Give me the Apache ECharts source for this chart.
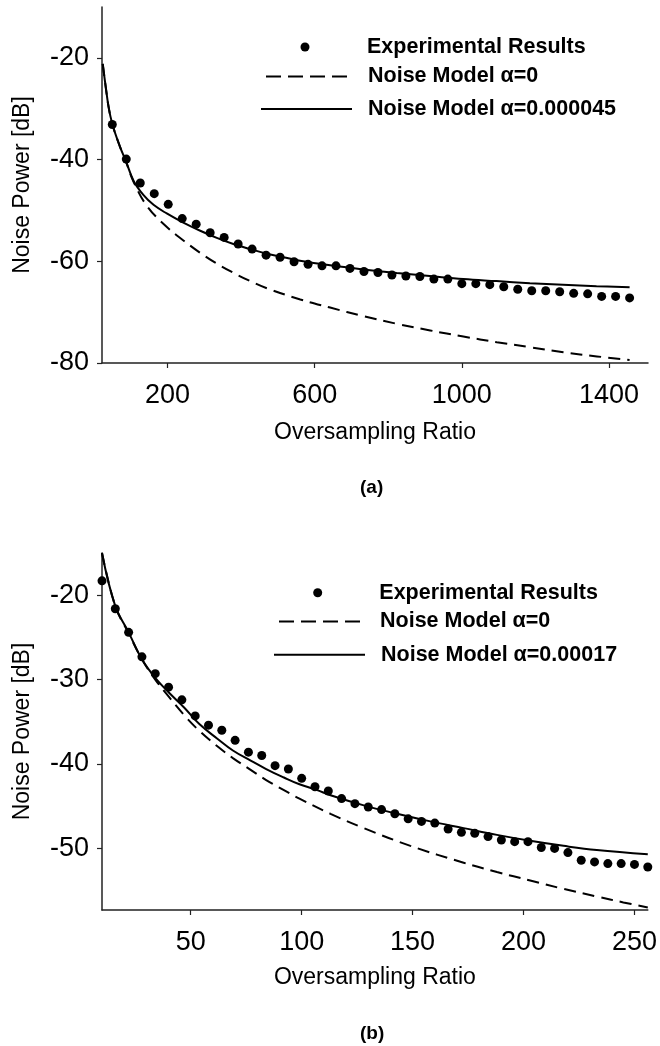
<!DOCTYPE html>
<html><head><meta charset="utf-8">
<script src="https://cdn.jsdelivr.net/npm/echarts@6/dist/echarts.min.js"></script>
<style>html,body{margin:0;padding:0;background:#fff}#c{width:660px;height:1046px}</style>
</head><body><div id="c"></div>
<script>
const FONT = '"Liberation Sans", Arial, Helvetica, sans-serif';

// ---------- Panel (a) ----------
const aTicksX = [200, 600, 1000, 1400];
const aTicksY = [-80, -60, -40, -20];
const aExpX = [50, 88, 126, 164, 202, 240, 278, 316, 354, 392, 430, 468, 506, 544, 582, 620, 658, 696, 734, 772, 810, 848, 886, 924, 962, 1000, 1038, 1076, 1114, 1152, 1190, 1228, 1266, 1304, 1342, 1380, 1418, 1456];
const aExpY = [-33.1, -39.9, -44.6, -46.7, -48.8, -51.6, -52.7, -54.4, -55.3, -56.6, -57.6, -58.8, -59.2, -60.1, -60.6, -60.9, -60.9, -61.4, -62.0, -62.2, -62.7, -62.9, -63.0, -63.5, -63.5, -64.4, -64.4, -64.6, -65.0, -65.5, -65.8, -65.8, -66.0, -66.3, -66.4, -66.9, -66.9, -67.2];
const aM0X = [24, 31, 40, 50, 70, 88, 108, 145, 199, 245, 290, 335, 380, 425, 470, 561, 642, 733, 824, 914, 1004, 1095, 1186, 1276, 1367, 1456];
const aM0Y = [-21.2, -25.1, -29.7, -33.0, -37.3, -40.6, -44.4, -49.2, -53.3, -56.0, -58.4, -60.5, -62.3, -63.9, -65.3, -67.5, -69.1, -70.8, -72.3, -73.6, -74.8, -75.9, -76.9, -77.9, -78.7, -79.4];
const aM1X = [24, 31, 40, 50, 70, 88, 108, 135, 162, 198, 243, 289, 334, 379, 425, 470, 515, 560, 642, 732, 823, 913, 1004, 1094, 1185, 1275, 1366, 1456];
const aM1Y = [-21.2, -25.1, -29.7, -33.0, -37.3, -40.5, -44.2, -47.0, -48.9, -50.6, -52.4, -54.0, -55.4, -56.6, -57.6, -58.5, -59.2, -59.9, -60.8, -61.6, -62.3, -62.9, -63.5, -63.9, -64.3, -64.6, -64.9, -65.1];

// ---------- Panel (b) ----------
const bTicksX = [50, 100, 150, 200, 250];
const bTicksY = [-50, -40, -30, -20];
const bExpX = [10, 16, 22, 28, 34, 40, 46, 52, 58, 64, 70, 76, 82, 88, 94, 100, 106, 112, 118, 124, 130, 136, 142, 148, 154, 160, 166, 172, 178, 184, 190, 196, 202, 208, 214, 220, 226, 232, 238, 244, 250, 256];
const bExpY = [-18.3, -21.6, -24.4, -27.3, -29.3, -30.9, -32.4, -34.3, -35.4, -36.0, -37.2, -38.6, -39.0, -40.2, -40.6, -41.7, -42.7, -43.2, -44.1, -44.7, -45.1, -45.4, -45.9, -46.5, -46.8, -47.0, -47.7, -48.1, -48.2, -48.6, -49.0, -49.2, -49.2, -49.9, -50.0, -50.5, -51.4, -51.6, -51.8, -51.8, -51.9, -52.2];
const bM0X = [10, 16, 22, 28, 34, 40, 48, 54, 62, 69, 77, 84, 92, 99, 113, 128, 149, 173, 188, 203, 218, 233, 245, 256];
const bM0Y = [-15.0, -21.3, -24.5, -27.6, -30.0, -32.0, -34.5, -36.1, -37.9, -39.3, -40.7, -41.9, -43.1, -44.1, -45.9, -47.6, -49.7, -51.7, -52.8, -53.8, -54.8, -55.7, -56.4, -57.0];
const bM1X = [10, 16, 22, 28, 34, 40, 47, 54, 62, 69, 77, 84, 92, 99, 107, 113, 128, 143, 158, 173, 188, 203, 218, 233, 256];
const bM1Y = [-15.0, -21.3, -24.4, -27.6, -29.8, -31.5, -33.3, -35.3, -37.0, -38.4, -39.6, -40.6, -41.6, -42.4, -43.1, -43.7, -44.9, -45.9, -46.8, -47.6, -48.4, -49.1, -49.7, -50.2, -50.7];

const NAME_EXP = 'Experimental Results';
const NAME_M0 = 'Noise Model \u03b1=0';
const NAME_A1 = 'Noise Model \u03b1=0.000045';
const NAME_B1 = 'Noise Model \u03b1=0.00017';

const zip = (xs, ys) => xs.map((x, i) => [x, ys[i]]);
const plain = v => String(v);

function xAxisCfg(grid, min, max, ticks, nameGap) {
  return {
    gridIndex: grid, type: 'value', min: min, max: max,
    axisLine: { show: true, onZero: false, lineStyle: { color: '#222', width: 1.5 } },
    axisTick: { show: true, inside: false, length: 5, customValues: ticks, lineStyle: { color: '#222', width: 1.2 } },
    axisLabel: { show: true, customValues: ticks, formatter: plain, margin: 19, fontSize: 27, fontFamily: FONT, color: '#000' },
    splitLine: { show: false },
    name: 'Oversampling Ratio', nameLocation: 'middle', nameGap: nameGap,
    nameTextStyle: { fontSize: 23, fontFamily: FONT, color: '#000' }
  };
}
function yAxisCfg(grid, min, max, ticks) {
  return {
    gridIndex: grid, type: 'value', min: min, max: max,
    axisLine: { show: true, onZero: false, lineStyle: { color: '#222', width: 1.5 } },
    axisTick: { show: true, inside: false, length: 5, customValues: ticks, lineStyle: { color: '#222', width: 1.2 } },
    axisLabel: { show: true, customValues: ticks, formatter: plain, margin: 13, fontSize: 27, fontFamily: FONT, color: '#000' },
    splitLine: { show: false },
    name: 'Noise Power [dB]', nameLocation: 'middle', nameGap: 68,
    nameTextStyle: { fontSize: 23, fontFamily: FONT, color: '#000' }
  };
}
function lineSeries(name, grid, data, dashed) {
  return {
    type: 'line', name: name, xAxisIndex: grid, yAxisIndex: grid,
    data: data, symbol: 'none', showSymbol: false, smooth: 0.4,
    lineStyle: { color: '#000', width: 2, type: dashed ? [12, 7] : 'solid' },
    itemStyle: { color: '#000' }, z: 2
  };
}
function scatterSeries(grid, data) {
  return {
    type: 'scatter', name: NAME_EXP, xAxisIndex: grid, yAxisIndex: grid,
    data: data, symbol: 'circle', symbolSize: 9,
    itemStyle: { color: '#000', opacity: 1 }, z: 3
  };
}
// legend for a line: icon from L, width W, centre cy; text starts at L+W+5+padLeft
function legLine(name, L, W, cy, padTop, padLeft, dashed) {
  const h = 10;
  return {
    left: L, top: cy - (h + padTop) / 2, itemWidth: W, itemHeight: h,
    padding: 0, itemGap: 0, selectedMode: false, data: [name],
    itemStyle: { opacity: 0 },
    lineStyle: { width: 2, type: dashed ? [15, 7] : 'solid', color: '#000', opacity: 1 },
    textStyle: { fontFamily: FONT, fontSize: 21.5, fontWeight: 'bold', color: '#000',
      lineHeight: h, padding: [padTop, 0, 0, padLeft] }
  };
}
// legend for the dots: dot centre (cx, cy), text starts at textX
function legDot(name, cx, cy, textX, padTop) {
  const h = 9;
  const L = cx - h / 2;
  return {
    left: L, top: cy - (h + padTop) / 2, itemWidth: h, itemHeight: h,
    padding: 0, itemGap: 0, selectedMode: false, data: [name],
    itemStyle: { color: '#000', opacity: 1 },
    textStyle: { fontFamily: FONT, fontSize: 21.5, fontWeight: 'bold', color: '#000',
      lineHeight: h, padding: [padTop, 0, 0, textX - (L + h + 5)] }
  };
}

const option = {
  animation: false,
  backgroundColor: '#fff',
  title: [
    { text: '(a)', left: 360, top: 478, padding: 0,
      textStyle: { fontFamily: FONT, fontSize: 19, fontWeight: 'bold', color: '#000' } },
    { text: '(b)', left: 360, top: 1024, padding: 0,
      textStyle: { fontFamily: FONT, fontSize: 19, fontWeight: 'bold', color: '#000' } }
  ],
  grid: [
    { left: 102, top: 7, right: 12, height: 356 },
    { left: 102, top: 553, right: 12, height: 357 }
  ],
  xAxis: [
    xAxisCfg(0, 22, 1506, aTicksX, 58),
    xAxisCfg(1, 10, 256, bTicksX, 56)
  ],
  yAxis: [
    yAxisCfg(0, -80, -10, aTicksY),
    yAxisCfg(1, -57.3, -15, bTicksY)
  ],
  legend: [
    legDot(NAME_EXP, 305, 41.5, 367, 2),
    legLine(NAME_M0, 265, 87, 73.5, 6, 10, true),
    legLine(NAME_A1, 260, 91, 106, 6, 11, false),
    legDot(NAME_EXP, 317.7, 587.7, 379.3, 3),
    legLine(NAME_M0, 278, 86, 619, 7, 10, true),
    legLine(NAME_B1, 273, 91, 652.3, 7, 11, false)
  ],
  series: [
    lineSeries(NAME_M0, 0, zip(aM0X, aM0Y), true),
    lineSeries(NAME_A1, 0, zip(aM1X, aM1Y), false),
    scatterSeries(0, zip(aExpX, aExpY)),
    lineSeries(NAME_M0, 1, zip(bM0X, bM0Y), true),
    lineSeries(NAME_B1, 1, zip(bM1X, bM1Y), false),
    scatterSeries(1, zip(bExpX, bExpY))
  ]
};
const chart = echarts.init(document.getElementById('c'), null, { renderer: 'canvas' });
chart.setOption(option);
</script>
</body></html>
